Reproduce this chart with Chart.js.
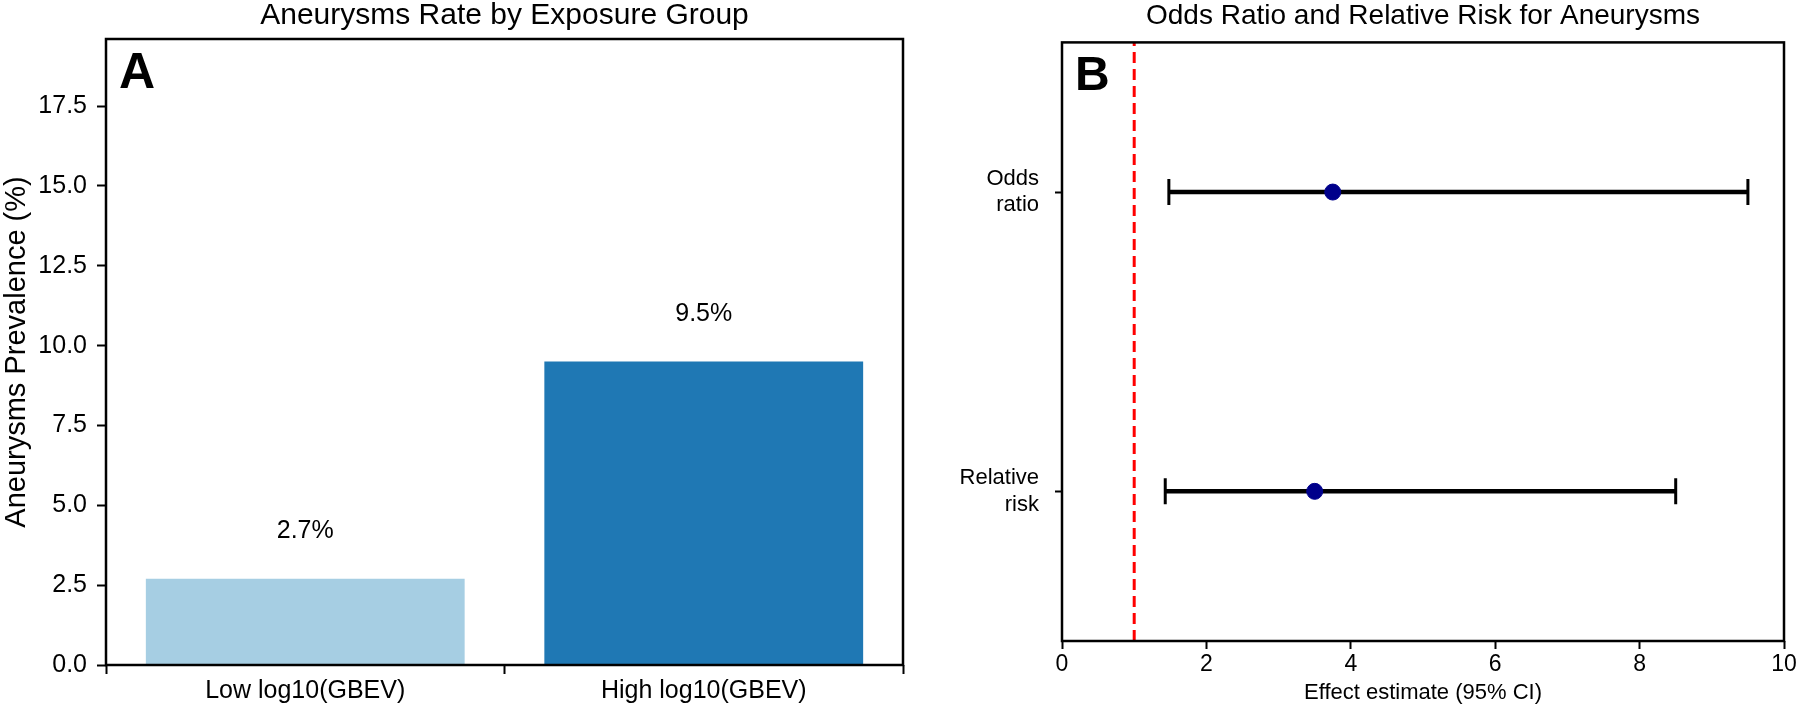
<!DOCTYPE html>
<html>
<head>
<meta charset="utf-8">
<script src="https://cdn.jsdelivr.net/npm/chart.js@4.4.1/dist/chart.umd.min.js"></script>
<style>
    body { margin: 0; background: #fff; }
    .panel { position: absolute; top: 0; }
</style>
</head>
<body>
<div class="panel" style="left:0"><canvas id="rate_graph" width="930" height="710"></canvas></div>
<div class="panel" style="left:930px"><canvas id="risk_graph" width="870" height="710"></canvas></div>
<script>
// panel A data
const groups = ["Low log10(GBEV)", "High log10(GBEV)"]
const rates = [2.7, 9.5]
const rateColors = ["#a6cee3", "#1f78b4"]
const rateTicks = [0, 2.5, 5, 7.5, 10, 12.5, 15, 17.5]

// panel B data
const measures = [["Odds", "ratio"], ["Relative", "risk"]]
const measureRows = [1, 0]
const estimates = [3.75, 3.5]
const lowerCI = [1.48, 1.43]
const upperCI = [9.5, 8.5]
const nullLine = 1

const font = "'Liberation Sans', Arial, sans-serif"
Chart.defaults.font.family = font
Chart.defaults.color = "#000"

// box around plot + titles + panel letters
let framePlugin = {
    id: "frame",
    afterDraw(chart, args, opts) {
        let ctx = chart.ctx
        let a = chart.chartArea
        ctx.save()
        ctx.strokeStyle = "#000"
        ctx.lineWidth = 2.5
        ctx.strokeRect(a.left, a.top, a.right - a.left, a.bottom - a.top)
        ctx.fillStyle = "#000"
        ctx.textAlign = "center"
        ctx.textBaseline = "middle"
        ctx.font = opts.titleSize + "px " + font
        ctx.fillText(opts.title, (a.left + a.right) / 2, 16)
        ctx.textAlign = "left"
        ctx.textBaseline = "top"
        ctx.font = "bold " + opts.letterSize + "px " + font
        ctx.fillText(opts.letter, a.left + 13, a.top + 10)
        ctx.restore()
    }
}

// value labels above bars
let barLabels = {
    id: "barLabels",
    afterDatasetsDraw(chart) {
        let ctx = chart.ctx
        let meta = chart.getDatasetMeta(0)
        let y = chart.scales.y
        ctx.save()
        ctx.fillStyle = "#000"
        ctx.font = "25px " + font
        ctx.textAlign = "center"
        ctx.textBaseline = "middle"
        meta.data.forEach((bar, i) => {
            ctx.fillText(rates[i].toFixed(1) + "%", bar.x, y.getPixelForValue(rates[i] + 1.5))
        })
        ctx.restore()
    }
}

new Chart("rate_graph", {
    type: "bar",
    data: {
        labels: groups,
        datasets: [{
            data: rates,
            backgroundColor: rateColors,
            categoryPercentage: 1,
            barPercentage: 0.8
        }]
    },
    options: {
        responsive: false,
        animation: false,
        devicePixelRatio: 1,
        layout: { padding: { top: 39, right: 27, left: 0, bottom: 0 } },
        plugins: {
            legend: { display: false },
            tooltip: { enabled: false },
            frame: { title: "Aneurysms Rate by Exposure Group", titleSize: 30, letter: "A", letterSize: 50 }
        },
        scales: {
            x: {
                grid: { drawOnChartArea: false, tickLength: 9, tickColor: "#000", tickWidth: 2 },
                border: { display: false },
                ticks: { font: { size: 25 }, padding: 2 },
                afterFit: scale => { scale.height = 45 }
            },
            y: {
                min: 0,
                max: 19.6,
                afterBuildTicks: scale => { scale.ticks = rateTicks.map(v => ({ value: v })) },
                grid: { drawOnChartArea: false, tickLength: 9, tickColor: "#000", tickWidth: 2 },
                border: { display: false },
                ticks: { font: { size: 25 }, padding: 10, callback: v => v.toFixed(1) },
                title: { display: true, text: "Aneurysms Prevalence (%)", font: { size: 29 }, padding: 0 },
                afterFit: scale => { scale.width = 106 }
            }
        }
    },
    plugins: [framePlugin, barLabels]
})

let ciSets = measureRows.map((row, i) => ({
    type: "line",
    data: [{ x: lowerCI[i], y: row }, { x: upperCI[i], y: row }],
    borderColor: "#000",
    borderWidth: 4.5,
    pointStyle: "line",
    pointRotation: 90,
    pointRadius: 13,
    pointBorderWidth: 3,
    pointBorderColor: "#000",
    order: 2
}))

new Chart("risk_graph", {
    type: "scatter",
    data: {
        datasets: [
            {
                type: "line",
                data: [{ x: nullLine, y: -0.5 }, { x: nullLine, y: 1.5 }],
                borderColor: "#ff0000",
                borderWidth: 3,
                borderDash: [11, 6],
                pointRadius: 0,
                order: 3
            },
            ...ciSets,
            {
                data: measureRows.map((row, i) => ({ x: estimates[i], y: row })),
                backgroundColor: "#00008b",
                borderColor: "#00008b",
                pointRadius: 8,
                order: 1
            }
        ]
    },
    options: {
        responsive: false,
        animation: false,
        devicePixelRatio: 1,
        layout: { padding: { top: 36, right: 13, left: 0, bottom: 0 } },
        plugins: {
            legend: { display: false },
            tooltip: { enabled: false },
            frame: { title: "Odds Ratio and Relative Risk for Aneurysms", titleSize: 28, letter: "B", letterSize: 48 }
        },
        scales: {
            x: {
                min: 0,
                max: 10,
                ticks: { stepSize: 2, font: { size: 23 }, padding: 2 },
                grid: { drawOnChartArea: false, tickLength: 8, tickColor: "#000", tickWidth: 2 },
                border: { display: false },
                title: { display: true, text: "Effect estimate (95% CI)", font: { size: 22 }, padding: { top: 0 } },
                afterFit: scale => { scale.height = 69 }
            },
            y: {
                min: -0.5,
                max: 1.5,
                afterBuildTicks: scale => { scale.ticks = measureRows.map(v => ({ value: v })) },
                grid: { drawOnChartArea: false, tickLength: 7, tickColor: "#000", tickWidth: 2 },
                border: { display: false },
                ticks: {
                    font: { size: 22 },
                    padding: 16,
                    callback: v => measures[measureRows.indexOf(v)]
                },
                afterFit: scale => { scale.width = 132 }
            }
        }
    },
    plugins: [framePlugin]
})
</script>
</body>
</html>
